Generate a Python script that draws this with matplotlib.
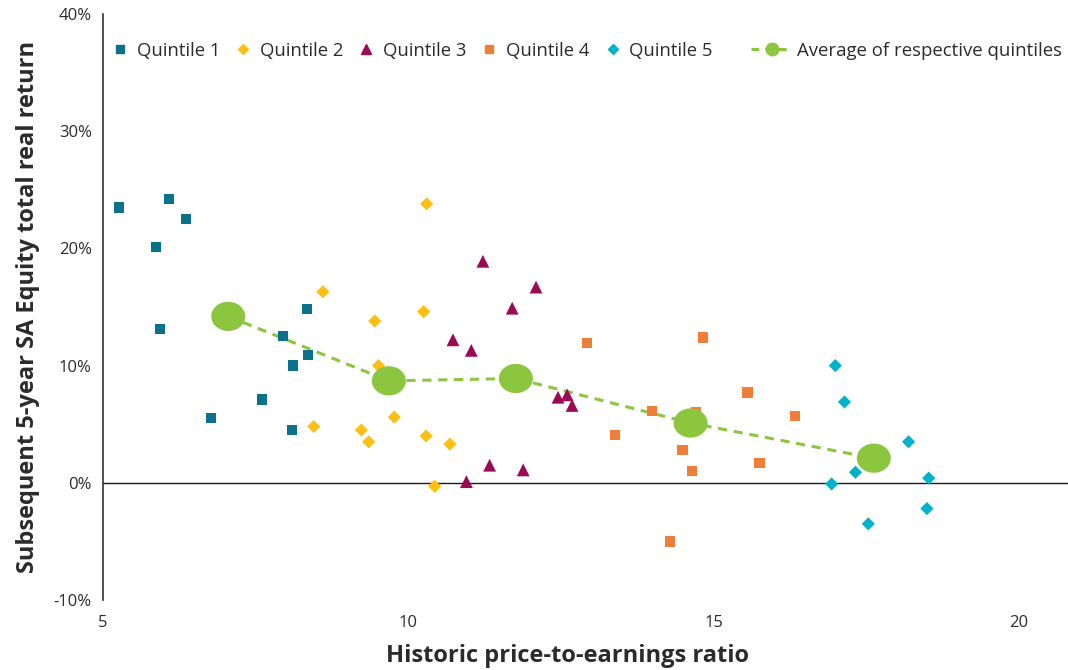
import matplotlib
matplotlib.use("Agg")
import numpy as np
import matplotlib.pyplot as plt
from matplotlib.lines import Line2D
from matplotlib.path import Path
from matplotlib.ticker import FuncFormatter

plt.rcParams['font.family'] = ['Open Sans', 'DejaVu Sans']

# Quintile data: (P/E, subsequent 5y real return %)
q1_x = [5.26, 6.08, 6.36, 5.87, 5.93, 6.77, 7.60, 7.95, 8.34, 8.36, 8.11, 8.09]
q1_y = [23.5, 24.2, 22.5, 20.1, 13.1, 5.5, 7.1, 12.5, 14.8, 10.9, 10.0, 4.5]

q2_x = [10.30, 8.60, 10.25, 9.45, 9.51, 9.77, 8.45, 9.23, 9.35, 10.29, 10.68, 10.43]
q2_y = [23.8, 16.3, 14.6, 13.8, 10.0, 5.6, 4.8, 4.5, 3.5, 4.0, 3.3, -0.3]

q3_x = [11.22, 12.09, 11.70, 10.73, 11.03, 12.45, 12.60, 12.68, 11.33, 11.88, 10.95]
q3_y = [18.9, 16.7, 14.9, 12.2, 11.3, 7.3, 7.5, 6.6, 1.5, 1.1, 0.1]

q4_x = [12.93, 14.82, 15.55, 13.99, 14.71, 16.33, 13.38, 14.49, 15.75, 14.64, 14.28]
q4_y = [11.9, 12.4, 7.7, 6.1, 6.0, 5.7, 4.1, 2.8, 1.7, 1.0, -5.0]

q5_x = [16.99, 17.14, 18.19, 17.32, 18.52, 16.93, 18.49, 17.53]
q5_y = [10.0, 6.9, 3.5, 0.9, 0.4, -0.1, -2.2, -3.5]

avg_x = [7.05, 9.68, 11.76, 14.62, 17.62]
avg_y = [14.2, 8.7, 8.9, 5.1, 2.1]

series_labels = ["Quintile 1", "Quintile 2", "Quintile 3", "Quintile 4", "Quintile 5"]
avg_label = "Average of respective quintiles"
x_ticks = [5, 10, 15, 20]
y_ticks = [-10, 0, 10, 20, 30, 40]

colors = ["#0b7089", "#fdbf12", "#9a0a55", "#ef7f38", "#00b3cb"]
markers = ["s", "D", "^", "s", "D"]
sizes = [55, 45, 85, 55, 45]
green = "#8cc63f"
text_col = "#2b2b2b"

# slightly wide elliptical marker for averages
t = np.linspace(0, 2 * np.pi, 60)
ellipse = Path(np.column_stack([np.cos(t), 0.86 * np.sin(t)]), closed=True)

fig = plt.figure(figsize=(10.68, 6.7), dpi=100)
ax = fig.add_axes([103/1068, 70/670, 1 - 103/1068, (600-14)/670])

data = [(q1_x, q1_y), (q2_x, q2_y), (q3_x, q3_y), (q4_x, q4_y), (q5_x, q5_y)]
for (xs, ys), c, m, s, lab in zip(data, colors, markers, sizes, series_labels):
    ax.scatter(xs, ys, marker=m, s=s, color=c, edgecolors='none', label=lab, zorder=3)

ax.plot(avg_x, avg_y, color=green, linestyle=(0, (3, 2.2)), linewidth=2.2, zorder=2)
ax.scatter(avg_x, avg_y, s=600, marker=ellipse, color=green, edgecolors='none', zorder=4)

ax.axhline(0, color="#1a1a1a", linewidth=1.0, zorder=1)

ax.set_xlim(5, 20.8)
ax.set_ylim(-10, 40)
ax.set_xticks(x_ticks)
ax.set_yticks(y_ticks)
ax.yaxis.set_major_formatter(FuncFormatter(lambda v, p: f"{int(v)}%"))
ax.tick_params(axis='y', length=0, labelsize=12, colors=text_col, pad=8)
ax.tick_params(axis='x', length=0, labelsize=12, colors=text_col, pad=11)
for sp in ["top", "right", "bottom"]:
    ax.spines[sp].set_visible(False)
ax.spines["left"].set_color("#333333")
ax.spines["left"].set_linewidth(1.2)

ax.set_xlabel("Historic price-to-earnings ratio", fontsize=17, fontweight="bold",
              color=text_col, labelpad=6)
ax.xaxis.set_label_coords((567 - 103) / 965, -0.075)
ax.set_ylabel("Subsequent 5-year SA Equity total real return", fontsize=17,
              fontweight="bold", color=text_col, labelpad=10)

handles = []
for c, m, lab in zip(colors, markers, series_labels):
    ms = 6.5 if m == "^" else (5.5 if m == "D" else 6)
    handles.append(Line2D([], [], linestyle='none', marker=m, color=c, markersize=ms, label=lab))
leg1 = ax.legend(handles=handles, loc="center left", bbox_to_anchor=(0.011, 0.937), ncol=5,
                 frameon=False, fontsize=13.3, handlelength=0.7, handletextpad=0.55,
                 columnspacing=0.9, borderaxespad=0, borderpad=0)
for tx in leg1.get_texts():
    tx.set_color(text_col)
ax.add_artist(leg1)

avg_handle = Line2D([], [], color=green, linestyle=(0, (2.5, 2.0)), linewidth=2.2,
                    marker='o', markersize=9, label=avg_label)
leg2 = ax.legend(handles=[avg_handle], loc="center left", bbox_to_anchor=(0.672, 0.937),
                 frameon=False, fontsize=13.4, handlelength=2.2, handletextpad=0.25,
                 borderaxespad=0, borderpad=0)
for tx in leg2.get_texts():
    tx.set_color(text_col)

fig.savefig("out.png", dpi=100)
